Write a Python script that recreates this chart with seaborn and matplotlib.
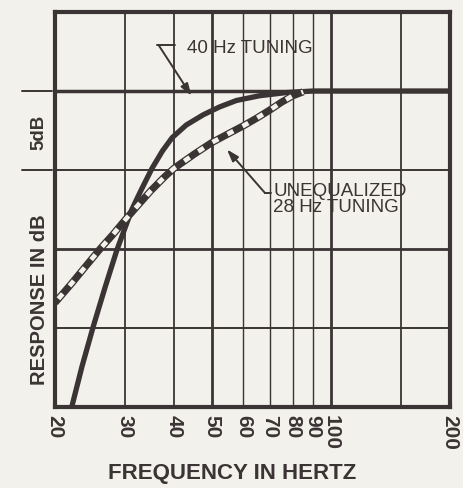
"""
Frequency response: 40 Hz tuning vs unequalized 28 Hz tuning
"""

import matplotlib
matplotlib.use("Agg")
import matplotlib.pyplot as plt
import matplotlib.transforms as mtransforms
import pandas as pd
import seaborn as sns

# 40 Hz tuning (solid curve)
solid_freq = [22.05, 23.4, 25, 26.8, 28.7, 31.3, 33, 35.2, 37.4, 39.6, 43, 47.5,
              52.3, 57.6, 65.9, 77, 90, 200]
solid_db = [-20, -17.45, -14.9, -12.4, -10.05, -7.5, -6.3, -4.9, -3.8, -2.95, -2.15, -1.5,
            -1.0, -0.6, -0.3, -0.1, 0, 0]

# unequalized 28 Hz tuning (dashed curve)
dash_freq = [20, 22, 24, 26, 28, 30, 32, 35, 38, 40, 45, 50, 55, 60, 65, 70, 75, 80, 85]
dash_db = [-13.4, -12.2, -11.05, -10.0, -9.1, -8.2, -7.4, -6.3, -5.4, -4.9, -4.0, -3.25,
           -2.7, -2.2, -1.7, -1.2, -0.7, -0.3, -0.05]

tick_freqs = [20, 30, 40, 50, 60, 70, 80, 90, 100, 200]
tick_labels = ["20", "30", "40", "50", "60", "70", "80", "90", "100", "200"]
grid_freqs = [30, 40, 50, 60, 70, 80, 90, 100, 150]
grid_db = [-15, -10, -5, 0]

INK = "#3a3434"
PAPER = "#f3f1ec"

sns.set_theme(style="white")
plt.rcParams["font.family"] = ["Liberation Sans", "DejaVu Sans"]

fig = plt.figure(figsize=(4.63, 4.88), dpi=100, facecolor=PAPER)
ax = fig.add_axes([55 / 463, 1 - 407 / 488, 395 / 463, 395 / 488])
ax.set_facecolor(PAPER)
ax.set_xscale("log")
ax.set_xlim(20, 200)
ax.set_ylim(-20, 5)

# grid
vwidth = {30: 1.3, 40: 1.3, 50: 2.0, 100: 2.0, 150: 1.3}
for f in grid_freqs:
    ax.axvline(f, color=INK, lw=vwidth.get(f, 1.0), zorder=1)
hwidth = {0: 2.5, -10: 2.0}
for d in grid_db:
    ax.axhline(d, color=INK, lw=hwidth.get(d, 1.4), zorder=1)

for s in ax.spines.values():
    s.set_color(INK)
    s.set_linewidth(3)

solid = pd.DataFrame({"freq": solid_freq, "db": solid_db})
dashed = pd.DataFrame({"freq": dash_freq, "db": dash_db})

sns.lineplot(data=solid, x="freq", y="db", ax=ax, color=INK, lw=3.8,
             solid_capstyle="butt", solid_joinstyle="round", zorder=3)
# dashed curve: bold black band with white outlined gaps
sns.lineplot(data=dashed, x="freq", y="db", ax=ax, color=INK, lw=5.2,
             solid_capstyle="butt", solid_joinstyle="round", zorder=4)
sns.lineplot(data=dashed, x="freq", y="db", ax=ax, color=PAPER, lw=3.4,
             linestyle=(2.5, (1.4, 2.2)), zorder=5)

ax.set_xticks(tick_freqs)
ax.set_xticklabels(tick_labels, rotation=-90, fontweight="bold", fontsize=15, color=INK)
ax.set_xticks([], minor=True)
ax.set_yticks([])
ax.tick_params(axis="x", length=0, pad=6)
ax.set_xlabel("")
ax.set_ylabel("")

# left scale marker: 5 dB bracket
trans = mtransforms.blended_transform_factory(ax.transAxes, ax.transData)
for d in [0, -5]:
    ax.plot([-0.083, -0.008], [d, d], color=INK, lw=1.4, transform=trans, clip_on=False)
ax.text(-0.04, -2.6, "5dB", rotation=90, ha="center", va="center", transform=trans,
        fontsize=13.5, fontweight="bold", color=INK)
ax.text(-0.04, -13.2, "RESPONSE IN dB", rotation=90, ha="center", va="center",
        transform=trans, fontsize=14.5, fontweight="bold", color=INK)
fig.text(232 / 463, 1 - 473 / 488, "FREQUENCY IN HERTZ", ha="center", va="center",
         fontsize=16, fontweight="bold", color=INK)

# annotations
ax.text(43.2, 2.7, "40 Hz TUNING", ha="left", va="center", fontsize=13.5, color=INK)
ax.plot([36.2, 40.2], [2.9, 2.9], color=INK, lw=1.4)
ax.annotate("", xy=(44.3, -0.3), xytext=(36.6, 2.9),
            arrowprops=dict(arrowstyle="-|>,head_length=0.6,head_width=0.2",
                            color=INK, lw=1.4, shrinkA=0, shrinkB=0))

ax.text(71.3, -6.85, "UNEQUALIZED\n28 Hz TUNING", ha="left", va="center",
        fontsize=13.5, color=INK, linespacing=0.9)
ax.plot([68.0, 70.6], [-6.45, -6.45], color=INK, lw=1.4)
ax.annotate("", xy=(54.5, -3.7), xytext=(68.0, -6.45),
            arrowprops=dict(arrowstyle="-|>,head_length=0.6,head_width=0.2",
                            color=INK, lw=1.4, shrinkA=0, shrinkB=0))

fig.savefig("out.png", dpi=100, facecolor=PAPER)
